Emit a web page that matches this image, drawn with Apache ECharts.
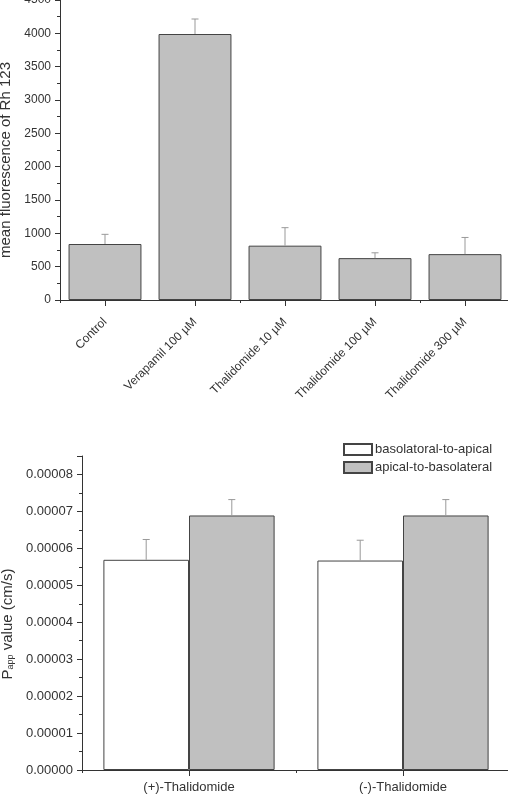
<!DOCTYPE html>
<html>
<head>
<meta charset="utf-8">
<script src="https://cdn.jsdelivr.net/npm/echarts@6/dist/echarts.min.js"></script>
<style>
  html, body { margin: 0; padding: 0; background: #fff; }
  #chart { width: 508px; height: 795px; }
</style>
</head>
<body>
<div id="chart"></div>
<script>
// top panel: Rh 123 accumulation
const topCategories = ["Control", "Verapamil 100 µM", "Thalidomide 10 µM", "Thalidomide 100 µM", "Thalidomide 300 µM"];
const topValues = [840, 3990, 815, 628, 688];
const topSd = [145, 225, 270, 80, 250];

// bottom panel: Papp values
const bottomCategories = ["(+)-Thalidomide", "(-)-Thalidomide"];
const baToAp = [0.0000569, 0.0000567];
const baToApSd = [0.0000055, 0.0000055];
const apToBa = [0.0000689, 0.0000689];
const apToBaSd = [0.0000043, 0.0000043];

const FONT = "Liberation Sans, Arial, sans-serif";
const axisColor = "#333";
const barGray = "#c0c0c0";
const errColor = "#999";

// draws upward error bar with a cap, shift is fraction of band width
function errorBar(shift) {
  return function (params, api) {
    const idx = api.value(0);
    const v = api.value(1);
    const sd = api.value(2);
    const band = api.size([1, 0])[0];
    const base = api.coord([idx, v]);
    const top = api.coord([idx, v + sd]);
    const x = base[0] + band * shift;
    return {
      type: "group",
      children: [
        { type: "line", shape: { x1: x, y1: base[1], x2: x, y2: top[1] }, style: { stroke: errColor, lineWidth: 1 } },
        { type: "line", shape: { x1: x - 3.5, y1: top[1], x2: x + 3.5, y2: top[1] }, style: { stroke: errColor, lineWidth: 1 } }
      ]
    };
  };
}

const chart = echarts.init(document.getElementById("chart"));

const commonAxisLine = { show: true, lineStyle: { color: axisColor, width: 1 } };

chart.setOption({
  animation: false,
  textStyle: { fontFamily: FONT },
  grid: [
    { left: 60, top: 0, width: 450, height: 300, containLabel: false, outerBoundsMode: "none" },
    { left: 82, top: 456, width: 428, height: 314, containLabel: false, outerBoundsMode: "none" }
  ],
  legend: {
    data: ["basolatoral-to-apical", "apical-to-basolateral"],
    orient: "vertical",
    left: 343,
    top: 443,
    itemWidth: 28,
    itemHeight: 11,
    itemGap: 5,
    padding: 0,
    icon: "rect",
    textStyle: { fontFamily: FONT, fontSize: 13, color: "#333", padding: [0, 0, 0, -2] }
  },
  xAxis: [
    {
      type: "category",
      gridIndex: 0,
      position: "bottom",
      data: topCategories,
      axisLine: commonAxisLine,
      axisTick: { show: true, alignWithLabel: true, length: 6, lineStyle: { color: axisColor } },
      axisLabel: { rotate: 45, margin: 20, fontSize: 12, color: "#333", fontFamily: FONT, interval: 0 }
    },
    {
      type: "category",
      gridIndex: 0,
      position: "bottom",
      data: topCategories,
      axisLine: { show: false },
      axisTick: { show: true, length: 3, lineStyle: { color: axisColor } },
      axisLabel: { show: false }
    },
    {
      type: "category",
      gridIndex: 1,
      position: "bottom",
      data: bottomCategories,
      axisLine: commonAxisLine,
      axisTick: { show: true, alignWithLabel: true, length: 6, lineStyle: { color: axisColor } },
      axisLabel: { margin: 11, fontSize: 13, color: "#333", fontFamily: FONT }
    },
    {
      type: "category",
      gridIndex: 1,
      position: "bottom",
      data: bottomCategories,
      axisLine: { show: false },
      axisTick: { show: true, length: 3, lineStyle: { color: axisColor } },
      axisLabel: { show: false }
    }
  ],
  yAxis: [
    {
      type: "value",
      gridIndex: 0,
      min: 0,
      max: 4500,
      interval: 500,
      name: "mean fluorescence of Rh 123",
      nameLocation: "middle",
      nameGap: 43,
      nameTextStyle: { fontSize: 15, color: "#333", fontFamily: FONT, padding: [0, 20, 0, 0] },
      axisLine: commonAxisLine,
      axisTick: { show: true, length: 5, lineStyle: { color: axisColor } },
      minorTick: { show: true, splitNumber: 2, length: 3, lineStyle: { color: axisColor } },
      axisLabel: { fontSize: 12, color: "#333", margin: 9, fontFamily: FONT, formatter: (v) => String(v) },
      splitLine: { show: false }
    },
    {
      type: "value",
      gridIndex: 1,
      min: 0,
      max: 0.000085,
      interval: 0.00001,
      name: "P{sub|app} value (cm/s)",
      nameLocation: "middle",
      nameGap: 64,
      nameTextStyle: {
        fontSize: 15, color: "#333", fontFamily: FONT, padding: [0, 22, 0, 0],
        rich: { sub: { fontSize: 9, color: "#333", fontFamily: FONT, verticalAlign: "bottom", padding: [6, 0, 0, 0] } }
      },
      axisLine: commonAxisLine,
      axisTick: { show: true, length: 5, lineStyle: { color: axisColor } },
      minorTick: { show: true, splitNumber: 2, length: 3, lineStyle: { color: axisColor } },
      axisLabel: {
        fontSize: 13, color: "#333", margin: 9, fontFamily: FONT, showMaxLabel: false,
        formatter: (v) => v.toFixed(5)
      },
      splitLine: { show: false }
    }
  ],
  series: [
    {
      type: "bar",
      xAxisIndex: 0,
      yAxisIndex: 0,
      data: topValues,
      barCategoryGap: "19%",
      itemStyle: { color: barGray, borderColor: "#444", borderWidth: 1 }
    },
    {
      type: "custom",
      xAxisIndex: 0,
      yAxisIndex: 0,
      z: 5,
      renderItem: errorBar(0),
      data: topValues.map((v, i) => [i, v, topSd[i]])
    },
    {
      name: "basolatoral-to-apical",
      type: "bar",
      xAxisIndex: 2,
      yAxisIndex: 1,
      data: baToAp,
      barGap: "0%",
      barCategoryGap: "20%",
      itemStyle: { color: "#fff", borderColor: "#444", borderWidth: 1 }
    },
    {
      name: "apical-to-basolateral",
      type: "bar",
      xAxisIndex: 2,
      yAxisIndex: 1,
      data: apToBa,
      barGap: "0%",
      barCategoryGap: "20%",
      itemStyle: { color: barGray, borderColor: "#444", borderWidth: 1 }
    },
    {
      type: "custom",
      xAxisIndex: 2,
      yAxisIndex: 1,
      z: 5,
      renderItem: errorBar(-0.2),
      data: baToAp.map((v, i) => [i, v, baToApSd[i]])
    },
    {
      type: "custom",
      xAxisIndex: 2,
      yAxisIndex: 1,
      z: 5,
      renderItem: errorBar(0.2),
      data: apToBa.map((v, i) => [i, v, apToBaSd[i]])
    }
  ]
});
</script>
</body>
</html>
